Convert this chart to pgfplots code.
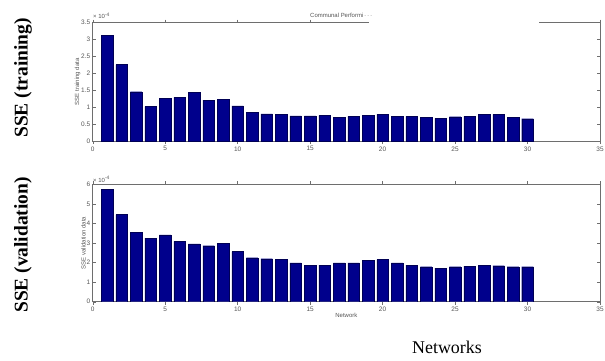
\documentclass[border=0pt]{standalone}
\usepackage{pgfplots}
\pgfplotsset{compat=1.18}
\usepackage{fontspec}
\setmainfont{Liberation Sans}
\newfontfamily\timesfont{Liberation Serif}
\definecolor{barblue}{RGB}{0,0,140}
\definecolor{framegray}{RGB}{110,110,110}
\definecolor{labgray}{RGB}{85,85,85}
\pgfplotstableread{
x y
1 3.12
2 2.26
3 1.46
4 1.02
5 1.26
6 1.29
7 1.44
8 1.21
9 1.24
10 1.04
11 0.85
12 0.80
13 0.78
14 0.74
15 0.74
16 0.76
17 0.70
18 0.73
19 0.76
20 0.79
21 0.73
22 0.73
23 0.70
24 0.67
25 0.72
26 0.73
27 0.79
28 0.79
29 0.71
30 0.66
}\training
\pgfplotstableread{
x y
1 5.76
2 4.45
3 3.56
4 3.25
5 3.42
6 3.08
7 2.96
8 2.86
9 2.98
10 2.56
11 2.25
12 2.20
13 2.16
14 1.98
15 1.87
16 1.87
17 1.98
18 1.99
19 2.10
20 2.15
21 1.98
22 1.87
23 1.79
24 1.72
25 1.79
26 1.82
27 1.87
28 1.84
29 1.79
30 1.79
}\validation
\pgfplotsset{
  mystyle/.style={
    scale only axis, width=507.3bp,
    xmin=0, xmax=35, xtick={0,5,...,35},
    ymin=0,
    tick align=inside, xtick pos=both, ytick pos=both,
    major tick length=3bp,
    axis line style={framegray, line width=0.5pt},
    every tick/.style={framegray, line width=0.4pt},
    tick label style={font=\fontsize{6.5}{7}\selectfont, text=labgray},
    /pgf/number format/assume math mode=true,
    xticklabel style={yshift=1bp},
    yticklabel style={xshift=1bp},
    label style={font=\fontsize{6}{7}\selectfont, text=labgray},
    ybar, bar width=0.8, bar shift=0,
  }
}
\begin{document}
\begin{tikzpicture}[x=1bp,y=1bp]
\useasboundingbox (0,0) rectangle (605,360);
\begin{axis}[mystyle, at={(92.7bp,219bp)}, anchor=south west,
  height=118.3bp, ymax=3.5, ytick={0,0.5,...,3.5},
  yticklabels={0,0.5,1,1.5,2,2.5,3,3.5},
  ylabel={SSE training data}, ylabel style={yshift=-6bp}]
\addplot[fill=barblue, draw=barblue!60!black, line width=0.3pt] table[x=x,y=y] {\training};
\end{axis}
\begin{axis}[mystyle, at={(92.7bp,58.3bp)}, anchor=south west,
  height=117.4bp, ymax=6, ytick={0,1,...,6},
  ylabel={SSE validation data}, ylabel style={yshift=-6bp},
  xlabel={Network}, xlabel style={yshift=5bp}]
\addplot[fill=barblue, draw=barblue!60!black, line width=0.3pt] table[x=x,y=y] {\validation};
\end{axis}
% gap in the top frame
\fill[white] (369,332) rectangle (539,341);
% title fragment
\node[anchor=west, inner sep=0, font=\fontsize{6}{7}\selectfont, text=labgray] at (310,345) {Communal Performi\textcolor{gray!60}{\,-\,-\,-}};
% exponent labels
\node[anchor=south west, inner sep=0, font=\fontsize{6}{7}\selectfont, text=labgray] at (93,341) {× 10\textsuperscript{-4}};
\node[anchor=south west, inner sep=0, font=\fontsize{6}{7}\selectfont, text=labgray] at (93,177.5) {× 10\textsuperscript{-4}};
% large outer labels
\node[rotate=90, font=\timesfont\bfseries\fontsize{19.5}{22}\selectfont] at (23,282) {SSE (training)};
\node[rotate=90, font=\timesfont\bfseries\fontsize{19.5}{22}\selectfont] at (23,115) {SSE (validation)};
\node[font=\timesfont\fontsize{18}{20}\selectfont] at (447,13) {Networks};
\end{tikzpicture}
\end{document}
